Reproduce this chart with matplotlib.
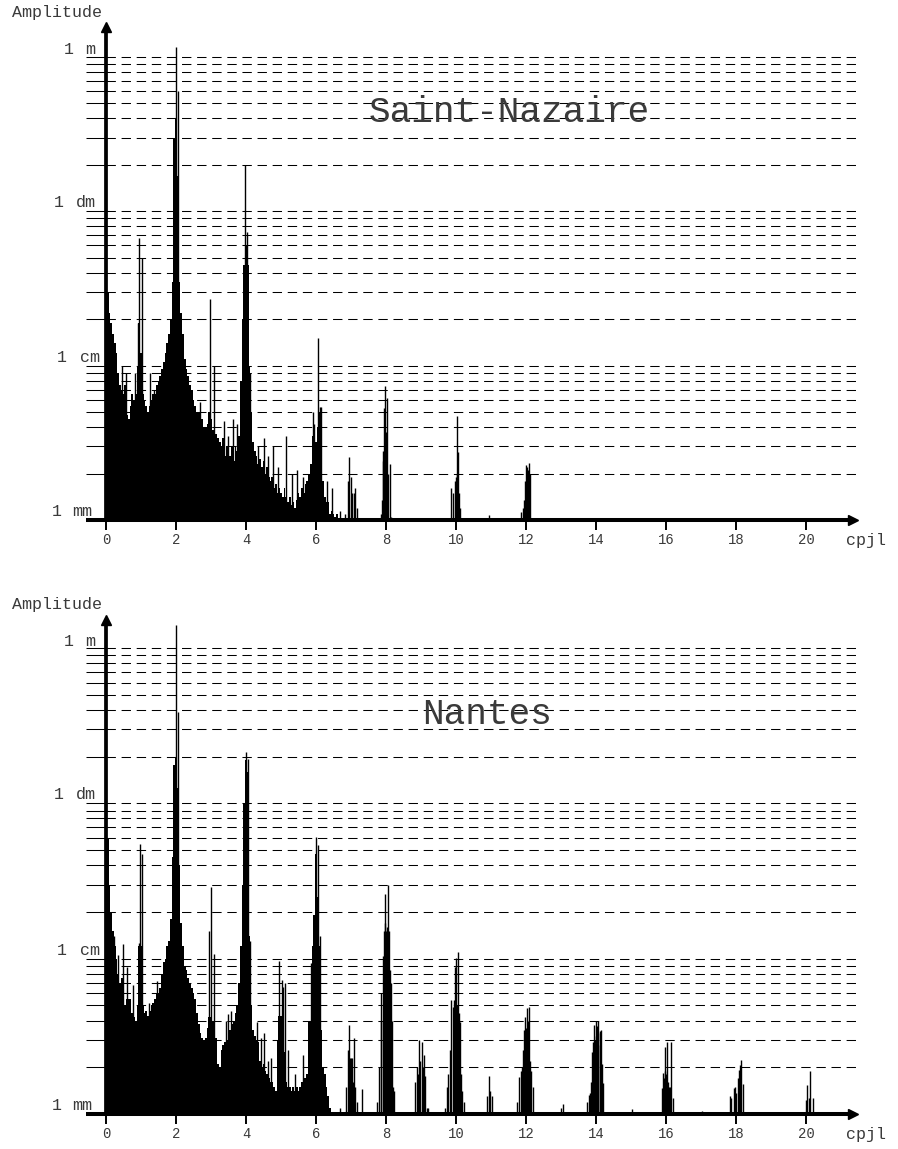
import numpy as np
import matplotlib
matplotlib.use("Agg")
import matplotlib.pyplot as plt
from matplotlib.ticker import NullLocator

plt.rcParams["font.family"] = ["Liberation Mono", "DejaVu Sans Mono"]

# amplitude spectra of the tide, frequency in cpjl, amplitude in mm
BASE_STEP = 0.05  # spacing of the dense low-frequency part

sn_base_amp = [
    45, 30, 22, 19, 16, 14, 12, 9, 7.5, 7,
    6.5, 7.5, 4.8, 4.5, 5.5, 6.5, 6.0, 6.5, 10, 19,
    12, 6.5, 6, 5.5, 5, 5.5, 6, 6.5, 6.5, 7.5,
    8, 8.5, 9.5, 10.5, 12, 14, 16, 20, 35, 300,
    400, 170, 35, 22, 16, 11, 9.5, 8.5, 7.5, 7,
    6, 5.5, 5, 5, 4.5, 4.5, 4, 4, 4.2, 5,
    4.5, 3.8, 3.8, 3.6, 3.4, 3.2, 3.0, 3.4, 2.6, 3.0,
    3.3, 2.6, 3.0, 2.4, 3.0, 2.8, 3.5, 8, 20, 45,
    60, 45, 10, 5, 3.2, 2.8, 2.6, 2.3, 2.5, 2.2,
    2.4, 2.0, 2.2, 1.9, 1.8, 1.9, 1.6, 1.7, 1.5, 1.6,
    1.5, 1.4, 1.6, 1.4, 1.3, 1.4, 1.25, 1.3, 1.2, 1.35,
    1.5, 1.4, 1.6, 1.5, 1.7, 1.8, 2.0, 2.3, 3.5, 3.0,
    3.2, 4.0, 5.0, 2.5, 1.8, 1.4, 1.3, 1.3, 1.1, 1.15,
    1.1, 1.05, 1.1, 1.0, 1.05, 1.0, 1.0, 1.0, 1.0, 1.0,
]
sn_spike_freq = [
    0.47, 0.57, 0.82, 0.92, 0.95, 1.04, 1.26, 1.36, 2.00, 2.07,
    2.69, 2.97, 3.09, 3.37, 3.48, 3.62, 3.74, 3.97, 4.03, 4.11,
    4.33, 4.50, 4.62, 4.78, 4.92, 5.14, 5.30, 5.47, 5.62, 5.90,
    5.93, 6.05, 6.10, 6.13, 6.30, 6.45, 6.69, 6.82, 6.90, 6.95,
    6.99, 7.03, 7.09, 7.11, 7.18, 7.85, 7.88, 7.90, 7.92, 7.95,
    7.98, 8.01, 8.04, 8.07, 8.11, 8.15, 9.87, 9.92, 9.96, 9.99,
    10.02, 10.04, 10.07, 10.09, 10.12, 10.95, 11.86, 11.90, 11.93, 11.96,
    11.99, 12.02, 12.05, 12.08, 12.11,
]
sn_spike_amp = [
    10, 9, 9, 19, 67, 50, 9, 7, 1150, 600,
    5.8, 27, 10, 4.4, 3.5, 4.5, 4.2, 200, 73, 9,
    3.0, 3.4, 2.6, 3.0, 2.2, 3.5, 2.0, 2.1, 1.9, 5.0,
    4.2, 15, 5.4, 5.4, 1.8, 1.6, 1.15, 1.1, 1.8, 2.55,
    1.9, 1.5, 1.5, 1.6, 1.2, 1.1, 1.35, 2.4, 2.8, 5.3,
    7.4, 3.7, 6.2, 2.0, 2.3, 1.05, 1.6, 1.5, 1.8, 1.9,
    2.0, 4.7, 2.75, 1.5, 1.2, 1.08, 1.12, 1.2, 1.35, 1.8,
    2.27, 2.2, 2.1, 2.35, 2.0,
]

na_base_amp = [
    200, 60, 30, 20, 15, 12, 10, 8, 7, 7.5,
    5.5, 5, 5.5, 5.5, 5.5, 4.5, 4.2, 4.0, 5.0, 12,
    12, 5, 4.5, 4.6, 4.3, 4.6, 5, 5.2, 5.5, 6,
    6, 6.5, 8, 9.5, 10, 12, 13, 18, 45, 178,
    200, 126, 40, 17, 12, 9, 8.5, 7.5, 7, 6.5,
    6, 5.5, 4.5, 3.8, 3.3, 3.1, 3.0, 3.1, 3.6, 4.2,
    4.2, 4.0, 3.3, 3.1, 2.1, 2.0, 2.6, 2.8, 2.9, 3.0,
    3.3, 3.5, 3.8, 4.0, 4.5, 5, 7, 12, 30, 100,
    190, 160, 14, 5, 3.5, 3.2, 3.0, 2.9, 2.2, 2.0,
    2.1, 1.9, 1.8, 1.7, 1.6, 1.6, 1.5, 1.4, 3.0, 4.3,
    4.3, 4.0, 2.5, 1.6, 1.5, 1.5, 1.4, 1.5, 1.4, 1.5,
    1.4, 1.5, 1.6, 1.7, 1.7, 1.8, 4, 4, 12, 19,
    47, 25, 12, 3.5, 2, 1.8, 1.5, 1.3, 1.1, 1.0,
]
na_spike_freq = [
    0.23, 0.35, 0.48, 0.61, 0.78, 0.93, 0.97, 1.04, 1.23, 1.45,
    2.00, 2.07, 2.95, 3.01, 3.09, 3.42, 3.49, 3.58, 4.00, 4.06,
    4.12, 4.30, 4.44, 4.50, 4.62, 4.72, 4.95, 5.02, 5.06, 5.10,
    5.19, 5.40, 5.64, 5.85, 5.93, 5.99, 6.07, 6.10, 6.69, 6.86,
    6.90, 6.95, 6.97, 7.00, 7.03, 7.06, 7.09, 7.12, 7.16, 7.30,
    7.75, 7.81, 7.85, 7.87, 7.90, 7.93, 7.96, 7.98, 8.01, 8.04,
    8.07, 8.09, 8.11, 8.14, 8.17, 8.20, 8.23, 8.84, 8.88, 8.92,
    8.95, 8.98, 9.02, 9.05, 9.09, 9.12, 9.16, 9.21, 9.69, 9.74,
    9.78, 9.83, 9.87, 9.90, 9.93, 9.96, 10.00, 10.03, 10.06, 10.09,
    10.12, 10.15, 10.18, 10.22, 10.88, 10.93, 10.97, 11.02, 11.75, 11.81,
    11.85, 11.88, 11.91, 11.94, 11.97, 12.00, 12.02, 12.05, 12.08, 12.11,
    12.14, 12.19, 12.99, 13.07, 13.75, 13.79, 13.83, 13.86, 13.88, 13.90,
    13.92, 13.95, 13.97, 13.99, 14.01, 14.03, 14.05, 14.07, 14.10, 14.12,
    14.14, 14.18, 14.21, 14.93, 15.02, 15.81, 15.88, 15.92, 15.94, 15.96,
    15.98, 16.00, 16.04, 16.06, 16.08, 16.11, 16.15, 16.20, 17.04, 17.82,
    17.87, 17.93, 17.97, 18.01, 18.05, 18.09, 18.12, 18.15, 18.21, 20.00,
    20.04, 20.08, 20.11, 20.21,
]
na_spike_amp = [
    14, 10.5, 12.5, 8.9, 6.8, 12.7, 55, 47, 5.2, 7.2,
    1400, 390, 15, 29, 10.7, 4.0, 4.4, 4.6, 214, 193,
    13, 3.9, 3.1, 3.3, 2.2, 2.3, 9.7, 7.3, 6.6, 7.0,
    2.6, 1.8, 2.4, 9.4, 19, 61, 54, 14, 1.1, 1.5,
    2.6, 3.75, 2.3, 2.3, 2.3, 1.6, 3.1, 1.5, 1.2, 1.45,
    1.2, 2.0, 4.0, 6.0, 10.4, 15, 26, 17, 15, 16,
    30, 15, 8.4, 7.0, 4.0, 1.5, 1.4, 1.6, 2.0, 1.8,
    3.0, 2.2, 2.9, 2.0, 2.4, 1.75, 1.1, 1.1, 1.1, 1.5,
    1.8, 2.6, 5.4, 4.9, 5.4, 8.9, 10.1, 5.0, 11.1, 4.5,
    3.9, 1.8, 1.4, 1.2, 1.3, 1.76, 1.4, 1.3, 1.2, 1.74,
    1.9, 2.0, 2.6, 3.45, 4.2, 3.6, 4.8, 4.0, 4.9, 2.2,
    1.9, 1.5, 1.1, 1.16, 1.2, 1.32, 1.36, 1.6, 2.5, 2.0,
    2.9, 3.76, 3.0, 3.95, 3.2, 3.66, 3.3, 4.0, 3.4, 2.8,
    3.5, 2.1, 1.58, 1.03, 1.08, 1.02, 1.47, 1.83, 1.7, 2.7,
    1.9, 1.82, 2.9, 1.6, 1.5, 1.5, 2.9, 1.26, 1.04, 1.3,
    1.26, 1.47, 1.5, 1.36, 1.7, 1.92, 2.07, 2.23, 1.56, 1.23,
    1.54, 1.26, 1.88, 1.26,
]

x_ticks = list(range(0, 21, 2))
grid_levels = [k * 10 ** n for n in range(3) for k in range(2, 10)] + [10, 100, 1000]
unit_labels = [(1, "mm"), (10, "cm"), (100, "dm"), (1000, "m")]

W, H = 898, 1149
PX_PER_CPJL = 35.0
TEXT = "#3a3a3a"


def px_rect(left, top, right, bottom):
    return [left / W, 1 - bottom / H, (right - left) / W, (bottom - top) / H]


def draw_panel(fig, top_px, bottom_px, decade_px, base_amp, spike_freq, spike_amp, name, name_xy):
    left, right = 106, 858
    ax = fig.add_axes(px_rect(left, top_px, right, bottom_px))
    ax.set_yscale("log")
    xmax = (right - left) / PX_PER_CPJL
    ymax = 10 ** ((bottom_px - top_px) / decade_px)
    ax.set_xlim(0, xmax)
    ax.set_ylim(1, ymax)
    for s in ax.spines.values():
        s.set_visible(False)

    # dashed amplitude grid
    ax.hlines(grid_levels, 0, xmax, colors="black", lw=0.75,
              linestyles=(0, (9, 5.5)), zorder=1)

    # spectrum
    freq = np.arange(len(base_amp)) * BASE_STEP
    ax.fill_between(freq, base_amp, 1.0, step="mid", color="black", lw=0, zorder=2)
    ax.vlines(spike_freq, 1.0, spike_amp, colors="black", lw=1.0, zorder=2)

    # ticks
    ax.set_xticks(x_ticks)
    ax.xaxis.set_minor_locator(NullLocator())
    ax.tick_params(axis="x", length=7.5, width=1.4, direction="out", pad=1.5,
                   labelsize=10, labelcolor=TEXT)
    ax.set_yticks([1] + grid_levels)
    ax.yaxis.set_minor_locator(NullLocator())
    ax.tick_params(axis="y", length=14.4, width=0.75, direction="out", labelleft=False)

    # axes with arrows
    w_px = right - left
    h_px = bottom_px - top_px
    ax.plot([-20 / w_px, 1 - 6 / w_px], [0, 0], transform=ax.transAxes, color="black",
            lw=2.9, solid_capstyle="butt", clip_on=False, zorder=4)
    ax.plot([1 - 5 / w_px], [0], transform=ax.transAxes, marker=">", ms=7,
            color="black", clip_on=False, zorder=4)
    ax.plot([0, 0], [0, 1 - 7 / h_px], transform=ax.transAxes, color="black",
            lw=2.7, solid_capstyle="butt", clip_on=False, zorder=4)
    ax.plot([0], [1 - 5 / h_px], transform=ax.transAxes, marker="^", ms=7,
            color="black", clip_on=False, zorder=4)

    # unit labels on the amplitude axis
    offsets = {"mm": (-49.5, -34, 8), "cm": (-44.5, -26, 8),
               "dm": (-47, -30, 9), "m": (-37.5, -21, 7)}
    for value, unit in unit_labels:
        dx1, dx2, dy = offsets[unit]
        ax.annotate("1", xy=(0, value), xytext=(dx1 * 0.72, dy * 0.72),
                    textcoords="offset points", ha="center", va="center",
                    fontsize=12, color=TEXT, annotation_clip=False)
        ax.annotate(unit, xy=(0, value), xytext=(dx2 * 0.72, dy * 0.72),
                    textcoords="offset points", ha="left", va="center",
                    fontsize=12, color=TEXT, annotation_clip=False)

    fig.text(57 / W, 1 - (top_px - 10) / H, "Amplitude", ha="center", va="center",
             fontsize=12, color=TEXT)
    fig.text(866 / W, 1 - (bottom_px + 20) / H, "cpjl", ha="center", va="center",
             fontsize=12, color=TEXT)
    fig.text(name_xy[0] / W, 1 - name_xy[1] / H, name, ha="center", va="center",
             fontsize=26, color=TEXT)
    return ax


fig = plt.figure(figsize=(W / 100, H / 100), dpi=100)
fig.patch.set_facecolor("white")

draw_panel(fig, 22, 520, 154.4, sn_base_amp, sn_spike_freq, sn_spike_amp,
           "Saint-Nazaire", (509, 113))
draw_panel(fig, 615, 1114, 155.3, na_base_amp, na_spike_freq, na_spike_amp,
           "Nantes", (487, 715))

fig.savefig("out.png", dpi=100)
